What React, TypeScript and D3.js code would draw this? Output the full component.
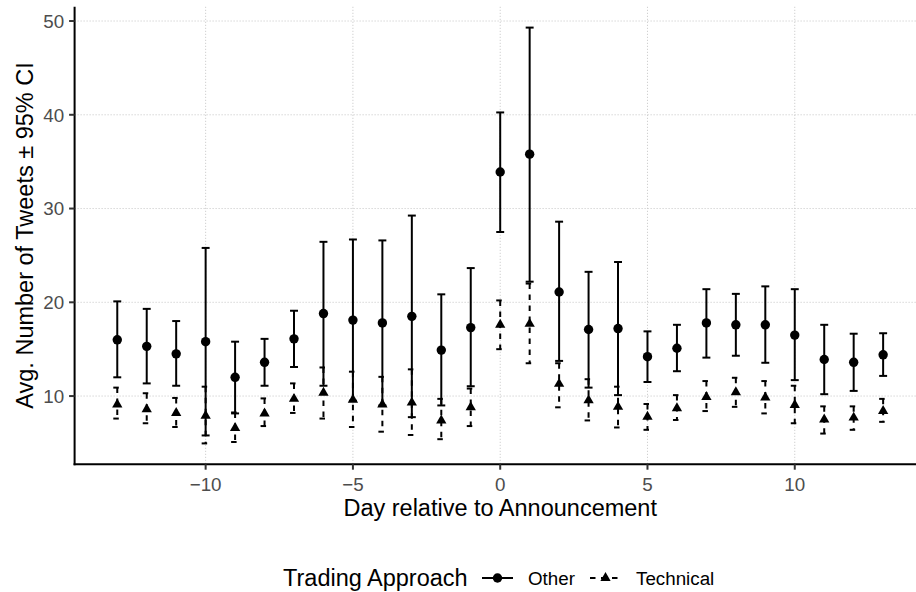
import React from "react";
import * as d3 from "d3";

// Days relative to the announcement
const days = [-13, -12, -11, -10, -9, -8, -7, -6, -5, -4, -3, -2, -1, 0, 1, 2, 3, 4, 5, 6, 7, 8, 9, 10, 11, 12, 13];

// "Other" trading approach: mean and 95% CI bounds
const otherMean = [16.0, 15.3, 14.5, 15.8, 12.0, 13.6, 16.1, 18.8, 18.1, 17.8, 18.5, 14.9, 17.3, 33.9, 35.8, 21.1, 17.1, 17.2, 14.2, 15.1, 17.8, 17.6, 17.6, 16.5, 13.9, 13.6, 14.4];
const otherLow = [12.0, 11.35, 11.1, 5.8, 8.15, 11.1, 13.1, 11.1, 9.5, 9.0, 7.75, 9.0, 11.05, 27.5, 22.2, 13.75, 10.9, 10.1, 11.5, 12.65, 14.1, 14.3, 13.55, 11.7, 10.2, 10.55, 12.15];
const otherHigh = [20.1, 19.3, 18.0, 25.8, 15.8, 16.1, 19.1, 26.45, 26.7, 26.6, 29.25, 20.85, 23.65, 40.25, 49.3, 28.6, 23.25, 24.3, 16.9, 17.6, 21.4, 20.9, 21.7, 21.4, 17.6, 16.65, 16.7];

// "Technical" trading approach: mean and 95% CI bounds
const techMean = [9.1, 8.6, 8.2, 7.9, 6.6, 8.15, 9.7, 10.35, 9.6, 9.1, 9.3, 7.4, 8.8, 17.6, 17.7, 11.3, 9.55, 8.85, 7.8, 8.7, 9.9, 10.4, 9.85, 9.05, 7.5, 7.7, 8.4];
const techLow = [7.6, 7.1, 6.7, 4.95, 5.1, 6.8, 8.2, 7.6, 6.7, 6.2, 5.85, 5.4, 6.8, 15.0, 13.5, 8.8, 7.4, 6.65, 6.4, 7.45, 8.4, 8.85, 8.15, 7.1, 6.0, 6.4, 7.25];
const techHigh = [10.9, 10.3, 9.8, 11.0, 8.25, 9.75, 11.35, 13.05, 12.6, 12.05, 12.85, 9.7, 10.8, 20.2, 22.0, 13.5, 11.8, 11.0, 9.15, 10.1, 11.6, 11.95, 11.6, 11.1, 8.9, 8.9, 9.7];

const xTicks = [-10, -5, 0, 5, 10];
const yTicks = [10, 20, 30, 40, 50];

const seriesNames = ["Other", "Technical"];

const W = 916;
const H = 592;
const panel = { left: 74.6, right: 925.8, top: 6.8, bottom: 464.2 };
const FONT = "'Liberation Sans', Arial, Helvetica, sans-serif";
const capWidth = 0.27; // error bar cap width in day units
const lw = 2;
const dash = "5.5 5.5";

const allLow = [...otherLow, ...techLow];
const allHigh = [...otherHigh, ...techHigh];
const yLo = d3.min(allLow) as number;
const yHi = d3.max(allHigh) as number;
const yPad = (yHi - yLo) * 0.05;
const xLo = (d3.min(days) as number) - capWidth / 2;
const xHi = (d3.max(days) as number) + capWidth / 2;
const xPad = (xHi - xLo) * 0.05;

const x = d3.scaleLinear().domain([xLo - xPad, xHi + xPad]).range([panel.left, panel.right]);
const y = d3.scaleLinear().domain([yLo - yPad, yHi + yPad]).range([panel.bottom, panel.top]);

const triangle = d3.symbol().type(d3.symbolTriangle).size(46);

function ErrorBar({ d, lo, hi, dashed }: { d: number; lo: number; hi: number; dashed: boolean }) {
  const x0 = x(d - capWidth / 2);
  const x1 = x(d + capWidth / 2);
  const xc = x(d);
  const common = {
    stroke: "#000",
    strokeWidth: lw,
    fill: "none",
    strokeDasharray: dashed ? dash : undefined,
    strokeLinecap: "butt" as const,
  };
  return (
    <g>
      <path d={`M${x0},${y(hi)}H${x1}`} {...common} />
      <path d={`M${xc},${y(hi)}V${y(lo)}`} {...common} />
      <path d={`M${x0},${y(lo)}H${x1}`} {...common} />
    </g>
  );
}

export default function App() {
  const tickLen = 5.5;
  const tickFont = 18.8;
  const titleFont = 23.5;

  // legend layout
  const legY = 578;
  const legTitleX = 283;
  const key1 = [482, 513];
  const other = 528;
  const key2 = [590, 621];
  const tech = 636;

  return (
    <div style={{ position: "absolute", left: 0, top: 0, width: W, height: H, background: "#fff" }}>
      <svg width={W} height={H} style={{ display: "block", fontFamily: FONT }}>
        <rect width={W} height={H} fill="#fff" />
        {/* grid */}
        <g stroke="#c4c4c4" strokeWidth={1} strokeDasharray="1 2">
          {yTicks.map((t) => (
            <line key={"gy" + t} x1={panel.left} x2={panel.right} y1={y(t)} y2={y(t)} />
          ))}
          {xTicks.map((t) => (
            <line key={"gx" + t} x1={x(t)} x2={x(t)} y1={panel.top} y2={panel.bottom} />
          ))}
        </g>

        {/* error bars */}
        {days.map((d, i) => (
          <ErrorBar key={"eo" + d} d={d} lo={otherLow[i]} hi={otherHigh[i]} dashed={false} />
        ))}
        {days.map((d, i) => (
          <ErrorBar key={"et" + d} d={d} lo={techLow[i]} hi={techHigh[i]} dashed={true} />
        ))}

        {/* points */}
        {days.map((d, i) => (
          <circle key={"po" + d} cx={x(d)} cy={y(otherMean[i])} r={4.7} fill="#000" />
        ))}
        {days.map((d, i) => (
          <path key={"pt" + d} d={triangle() as string} transform={`translate(${x(d)},${y(techMean[i])})`} fill="#000" />
        ))}

        {/* axes */}
        <line x1={panel.left} x2={panel.left} y1={panel.top} y2={panel.bottom + 1} stroke="#000" strokeWidth={2} />
        <line x1={panel.left - 1} x2={panel.right} y1={panel.bottom} y2={panel.bottom} stroke="#000" strokeWidth={2} />
        {yTicks.map((t) => (
          <g key={"ty" + t}>
            <line x1={panel.left - tickLen} x2={panel.left} y1={y(t)} y2={y(t)} stroke="#333" strokeWidth={2} />
            <text x={panel.left - tickLen - 5} y={y(t)} dy="0.36em" textAnchor="end" fontSize={tickFont} fill="#4d4d4d">
              {t}
            </text>
          </g>
        ))}
        {xTicks.map((t) => (
          <g key={"tx" + t}>
            <line x1={x(t)} x2={x(t)} y1={panel.bottom} y2={panel.bottom + tickLen} stroke="#333" strokeWidth={2} />
            <text x={x(t)} y={491} textAnchor="middle" fontSize={tickFont} fill="#4d4d4d">
              {t < 0 ? "\u2212" + Math.abs(t) : String(t)}
            </text>
          </g>
        ))}

        {/* axis titles */}
        <text x={(panel.left + panel.right) / 2} y={516} textAnchor="middle" fontSize={titleFont} fill="#000">
          Day relative to Announcement
        </text>
        <text transform={`translate(33,${(panel.top + panel.bottom) / 2}) rotate(-90)`} textAnchor="middle" fontSize={titleFont} fill="#000">
          Avg. Number of Tweets ± 95% CI
        </text>

        {/* legend */}
        <text x={legTitleX} y={legY + 8} fontSize={titleFont} fill="#000">
          Trading Approach
        </text>
        <line x1={key1[0]} x2={key1[1]} y1={legY} y2={legY} stroke="#000" strokeWidth={lw} />
        <circle cx={(key1[0] + key1[1]) / 2} cy={legY} r={4.7} fill="#000" />
        <text x={other} y={legY + 6.5} fontSize={tickFont} fill="#000">
          {seriesNames[0]}
        </text>
        <line x1={key2[0]} x2={key2[1]} y1={legY} y2={legY} stroke="#000" strokeWidth={lw} strokeDasharray={dash} />
        <path d={triangle() as string} transform={`translate(${(key2[0] + key2[1]) / 2},${legY})`} fill="#000" />
        <text x={tech} y={legY + 6.5} fontSize={tickFont} fill="#000">
          {seriesNames[1]}
        </text>
      </svg>
    </div>
  );
}
